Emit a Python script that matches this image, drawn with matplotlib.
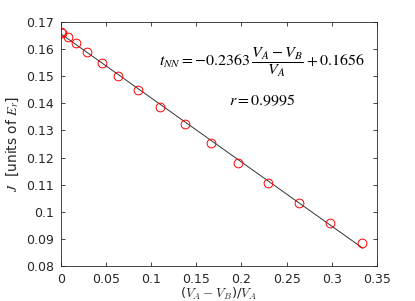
import matplotlib.pyplot as plt

# data
ratio = [0.0, 0.0015, 0.0074, 0.0163, 0.0285, 0.0451, 0.0635, 0.0856,
         0.1096, 0.1373, 0.1658, 0.1964, 0.2296, 0.2636, 0.2979, 0.3341]
tunnel = [0.1664, 0.1658, 0.1646, 0.1621, 0.1588, 0.1550, 0.1502, 0.1449,
          0.1388, 0.1324, 0.1253, 0.1181, 0.1107, 0.1031, 0.0957, 0.0884]

slope = -0.2363
intercept = 0.1656
fit_x = [0.0, 0.3345]
fit_y = [slope * x + intercept for x in fit_x]

plt.rcParams['mathtext.fontset'] = 'stix'
grey = '#262626'

fig = plt.figure(figsize=(4.15, 3.01), dpi=100)
ax = fig.add_axes([0.147, 0.1163, 0.761, 0.8107])

ax.plot(fit_x, fit_y, color='#333333', lw=0.7)
ax.plot(ratio, tunnel, 'o', mfc='none', mec='red', mew=0.7, ms=6.3)

ax.set_xlim(0, 0.35)
ax.set_ylim(0.08, 0.17)
ax.set_xticks([0, 0.05, 0.1, 0.15, 0.2, 0.25, 0.3, 0.35])
ax.set_xticklabels(['0', '0.05', '0.1', '0.15', '0.2', '0.25', '0.3', '0.35'])
ax.set_yticks([0.08, 0.09, 0.1, 0.11, 0.12, 0.13, 0.14, 0.15, 0.16, 0.17])
ax.set_yticklabels(['0.08', '0.09', '0.1', '0.11', '0.12', '0.13', '0.14',
                    '0.15', '0.16', '0.17'])
ax.tick_params(direction='in', top=True, right=True, length=3, width=0.6,
               labelsize=9, colors=grey, pad=5)
for s in ax.spines.values():
    s.set_color(grey)
    s.set_linewidth(0.6)

ax.set_xlabel(r'$\mathdefault{(}V_A-V_B\mathdefault{)/}V_A$', fontsize=9.5,
              color=grey, labelpad=0, math_fontfamily='cm')
ax.set_ylabel(r'$J$  [units of $E_r$]', fontsize=10, color=grey, labelpad=4)

ax.text(0.962, 0.836, r'$t_{NN}=-0.2363\,\dfrac{V_A-V_B}{V_A}+0.1656$',
        transform=ax.transAxes, ha='right', va='center', fontsize=11.5)
ax.text(0.639, 0.678, r'$r=0.9995$', transform=ax.transAxes,
        ha='center', va='center', fontsize=11.5)

fig.savefig('out.png', dpi=100)
